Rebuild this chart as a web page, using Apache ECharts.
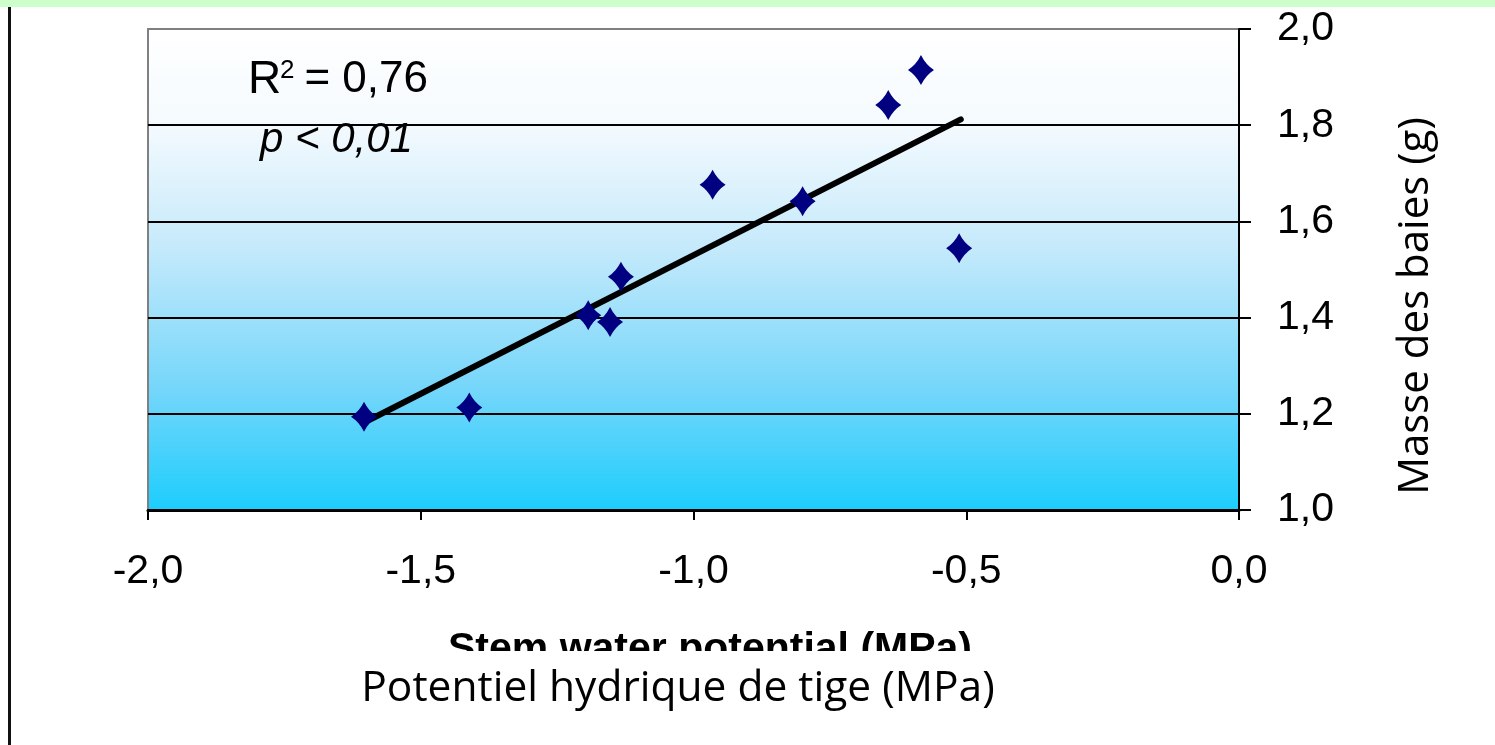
<!DOCTYPE html>
<html>
<head>
<meta charset="utf-8">
<script src="https://cdn.jsdelivr.net/npm/echarts@6/dist/echarts.min.js"></script>
<style>
  html, body { margin: 0; padding: 0; background: #ffffff; }
  #chart { width: 1495px; height: 745px; }
</style>
</head>
<body>
<div id="chart"></div>
<script>
// Stem water potential (MPa) of each vine
const stemPotential = [-1.604, -1.411, -1.193, -1.153, -1.133, -0.965, -0.800, -0.643, -0.583, -0.513];
// Mean berry mass (g) for the same vines
const berryMass = [1.194, 1.213, 1.405, 1.391, 1.485, 1.676, 1.642, 1.842, 1.915, 1.544];
// Ends of the fitted regression line
const trendX = [-1.60, -0.51];
const trendY = [1.184, 1.812];
// Axis ranges and steps
const xRange = [-2, 0, 0.5];
const yRange = [1, 2, 0.2];
// Text shown on the chart
const xTitleEn = 'Stem water potential (MPa)';
const xTitleFr = 'Potentiel hydrique de tige (MPa)';
const yTitle = 'Masse des baies (g)';
const statR2 = '0,76';
const statP = 'p < 0,01';

const fmt = v => (Math.abs(v) < 1e-9 ? 0 : v).toFixed(1).replace('.', ',');
const ARIAL = '"Liberation Sans", Arial, sans-serif';
const TITLE_FONT = '"Open Sans", "Noto Sans", sans-serif';

const chart = echarts.init(document.getElementById('chart'), null, { renderer: 'canvas' });

chart.setOption({
  animation: false,
  backgroundColor: '#ffffff',
  grid: {
    left: 148, right: 256, top: 29, bottom: 235,
    show: true,
    borderColor: '#808080',
    borderWidth: 2,
    backgroundColor: new echarts.graphic.LinearGradient(0, 0, 0, 1, [
      { offset: 0.00, color: '#ffffff' },
      { offset: 0.20, color: '#f4fafe' },
      { offset: 0.45, color: '#c6eafb' },
      { offset: 0.75, color: '#74d6fa' },
      { offset: 1.00, color: '#1ccdfd' }
    ])
  },
  xAxis: {
    type: 'value',
    min: xRange[0], max: xRange[1], interval: xRange[2],
    position: 'bottom',
    axisLine: { show: true, onZero: false, lineStyle: { color: '#000000', width: 3 } },
    axisTick: { show: true, inside: false, length: 10, lineStyle: { color: '#000000', width: 2 } },
    splitLine: { show: false },
    axisLabel: {
      formatter: fmt, color: '#000000', fontFamily: ARIAL, fontSize: 41, margin: 41
    }
  },
  yAxis: {
    type: 'value',
    min: yRange[0], max: yRange[1], interval: yRange[2],
    position: 'right',
    axisLine: { show: true, onZero: false, lineStyle: { color: '#000000', width: 2 } },
    axisTick: { show: true, inside: false, length: 12, lineStyle: { color: '#000000', width: 2 } },
    splitLine: {
      show: true,
      lineStyle: { color: ['#000000', '#000000', '#000000', '#000000', '#000000', '#808080'], width: 2 }
    },
    axisLabel: {
      formatter: fmt, color: '#000000', fontFamily: ARIAL, fontSize: 41, margin: 38
    }
  },
  series: [
    {
      type: 'line',
      data: trendX.map((x, i) => [x, trendY[i]]),
      showSymbol: false,
      symbol: 'none',
      lineStyle: { color: '#000000', width: 6, cap: 'round' },
      z: 3
    },
    {
      type: 'scatter',
      data: stemPotential.map((x, i) => [x, berryMass[i]]),
      symbol: 'path://M0,-1 Q0.36,-0.36 1,0 Q0.36,0.36 0,1 Q-0.36,0.36 -1,0 Q-0.36,-0.36 0,-1Z',
      symbolSize: [26, 30],
      itemStyle: { color: '#000080', opacity: 1 },
      z: 4
    }
  ],
  graphic: [
    { type: 'rect', left: 0, top: 0, shape: { width: 1495, height: 7 }, style: { fill: '#ccffcc' }, z: 10 },
    { type: 'rect', left: 8, top: 7, shape: { width: 3, height: 738 }, style: { fill: '#111111' }, z: 10 },
    // regression statistics
    { type: 'text', x: 248, y: 80, style: { text: 'R', font: '46px ' + ARIAL, fill: '#000', align: 'left', verticalAlign: 'middle' }, z: 10 },
    { type: 'text', x: 280, y: 71, style: { text: '2', font: '26px ' + ARIAL, fill: '#000', align: 'left', verticalAlign: 'middle' }, z: 10 },
    { type: 'text', x: 428, y: 80, style: { text: '= ' + statR2, font: '44px ' + ARIAL, fill: '#000', align: 'right', verticalAlign: 'middle' }, z: 10 },
    { type: 'text', x: 260, y: 140, style: { text: statP, font: 'italic 42px ' + ARIAL, fill: '#000', align: 'left', verticalAlign: 'middle' }, z: 10 },
    // English axis title, partly hidden under the French one
    { type: 'text', x: 710, y: 650, style: { text: xTitleEn, font: 'bold 41px ' + ARIAL, fill: '#000', align: 'center', verticalAlign: 'middle' }, z: 10 },
    { type: 'rect', left: 300, top: 651, shape: { width: 800, height: 94 }, style: { fill: '#ffffff' }, z: 11 },
    { type: 'text', x: 678, y: 689, style: { text: xTitleFr, font: '42.5px ' + TITLE_FONT, fill: '#000', align: 'center', verticalAlign: 'middle' }, z: 12 },
    { type: 'text', x: 1416, y: 306, rotation: Math.PI / 2, style: { text: yTitle, font: '42px ' + TITLE_FONT, fill: '#000', align: 'center', verticalAlign: 'middle' }, z: 12 }
  ]
});
</script>
</body>
</html>
